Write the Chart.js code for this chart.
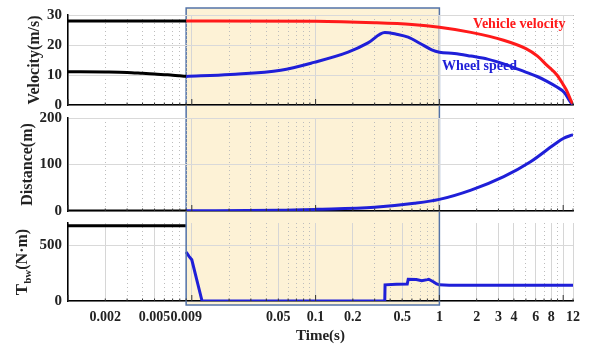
<!DOCTYPE html>
<html>
<head>
<meta charset="utf-8">
<script src="https://cdn.jsdelivr.net/npm/chart.js@4.4.0/dist/chart.umd.min.js"></script>
<style>
    body { margin: 0; background: #fff; }
    #wrap { position: relative; width: 589px; height: 347px; }
    #wrap canvas { position: absolute; left: 0; top: 0; }
</style>
</head>
<body>
<div id="wrap">
    <canvas id="chartTorque" width="589" height="347"></canvas>
    <canvas id="chartDistance" width="589" height="347"></canvas>
    <canvas id="chartVelocity" width="589" height="347"></canvas>
</div>
<script>
// --- data ---
const gridTicks = [0.001, 0.002, 0.003, 0.004, 0.005, 0.006, 0.007, 0.008, 0.009,
    0.01, 0.02, 0.03, 0.04, 0.05, 0.06, 0.07, 0.08, 0.09,
    0.1, 0.2, 0.3, 0.4, 0.5, 0.6, 0.7, 0.8, 0.9,
    1, 2, 3, 4, 5, 6, 7, 8, 9, 10, 12];
const decadeTicks = [0.001, 0.01, 0.1, 1, 10];
const tickLabels = [0.002, 0.005, 0.009, 0.05, 0.1, 0.2, 0.5, 1, 2, 3, 4, 6, 8, 12];
const bandRange = [0.009, 1];

const velTicks = [0, 10, 20, 30];
const distTicks = [0, 100, 200];
const torqueTicks = [0, 500];

// before 0.009 s (black)
const preTime = [0.001, 0.002, 0.003, 0.004, 0.005, 0.006, 0.007, 0.008, 0.009];
const preWheel = [11.1, 11.0, 10.85, 10.55, 10.3, 10.1, 9.95, 9.75, 9.55];
const preVehicle = [28, 28, 28, 28, 28, 28, 28, 28, 28];
const preDistance = [0, 0, 0, 0, 0, 0, 0, 0, 0];
const preTorque = [675, 675, 675, 675, 675, 675, 675, 675, 675];

// vehicle velocity (red)
const vehTime = [0.009, 0.1, 0.3, 0.6, 1.0, 1.8, 3.3, 5, 6.2, 7.4, 8.9, 10, 10.7, 11.7, 12];
const vehVel = [28.0, 27.9, 27.4, 26.8, 25.9, 24.2, 21.6, 18.8, 16.3, 13.2, 10, 6.8, 4.7, 1.0, 0.5];

// wheel speed (blue)
const wheelTime = [0.009, 0.0205, 0.0523, 0.097, 0.183, 0.265, 0.362, 0.45, 0.559, 0.7, 0.867, 1.0,
    1.32, 1.8, 2.45, 3.31, 4.53, 6.16, 7.4, 8.9, 10.2, 11.7, 12];
const wheelVel = [9.5, 10.2, 11.6, 14.2, 17.6, 20.7, 24.2, 23.6, 22.6, 20.5, 18.4, 17.6,
    17.2, 16.3, 15.3, 13.7, 11.6, 9.5, 7.9, 6.0, 4.2, 0.5, 0.3];

// distance (blue)
const distTime = [0.009, 0.05, 0.1, 0.3, 0.628, 1.0, 1.8, 3.31, 5.45, 8.36, 10, 11.7, 12];
const distVal = [0.5, 1.5, 3.5, 8, 16.5, 25, 45, 74, 106, 142, 156, 163, 164];

// braking torque (blue)
const torqueTime = [0.009, 0.0095, 0.01, 0.0121, 0.05, 0.2, 0.362, 0.364, 0.45, 0.55, 0.56, 0.65,
    0.72, 0.8, 0.82, 0.9, 0.95, 1.0, 1.2, 2, 5, 12];
const torqueVal = [440, 400, 370, 0, 0, 0, 0, 145, 150, 152, 195, 192,
    182, 192, 195, 170, 153, 145, 142, 141, 141, 141];

const vehicleLabelAt = [1.87, 26.8];
const wheelLabelAt = [1.05, 12.9];

// --- style ---
const FONT = 'Liberation Serif, Times New Roman, serif';
const RED = '#ff1a1a';
const BLUE = '#1f1fd8';
const BLACK = '#000';
const BAND_FILL = '#fdf2d6';
const BAND_EDGE = '#5373a8';
const BAND_TOP = 8;
const BAND_BOTTOM = 305;

const near = (v, list) => list.some(t => Math.abs(Math.log10(v) - Math.log10(t)) < 1e-6);
const pts = (xs, ys) => xs.map((x, i) => ({ x, y: ys[i] }));

function line(xs, ys, color, smooth) {
    return {
        data: pts(xs, ys),
        borderColor: color,
        borderWidth: 3,
        pointRadius: 0,
        fill: false,
        cubicInterpolationMode: smooth ? 'monotone' : 'default',
        tension: 0
    };
}

function xScale(labelled, solidList) {
    return {
        type: 'logarithmic',
        min: 0.001,
        max: 12,
        afterBuildTicks: s => { s.ticks = gridTicks.map(v => ({ value: v })); },
        afterFit: s => { s.height = labelled ? 46 : 0; },
        ticks: {
            display: labelled,
            autoSkip: false,
            maxRotation: 0,
            minRotation: 0,
            padding: 8,
            color: '#222',
            font: { family: FONT, size: 14, weight: 'bold' },
            callback: v => near(v, tickLabels) ? String(v) : ''
        },
        grid: {
            drawTicks: false,
            lineWidth: 1,
            color: ctx => (ctx.tick && near(ctx.tick.value, solidList)) ? '#d6d6d6' : '#bdbdbd'
        },
        border: {
            color: BLACK,
            width: 1.5,
            dash: ctx => (ctx.tick && !near(ctx.tick.value, solidList)) ? [1, 3] : []
        },
        title: {
            display: labelled,
            text: 'Time(s)',
            color: '#222',
            font: { family: FONT, size: 15, weight: 'bold' },
            padding: { top: 0, bottom: 2 }
        }
    };
}

function yScale(min, max, tickList, titleText, titlePad) {
    return {
        type: 'linear',
        min: min,
        max: max,
        afterBuildTicks: s => { s.ticks = tickList.map(v => ({ value: v })); },
        afterFit: s => { s.width = 68; },
        ticks: {
            padding: 6,
            color: '#222',
            font: { family: FONT, size: 15, weight: 'bold' }
        },
        grid: { drawTicks: false, color: '#d9d9d9', lineWidth: 1 },
        border: { color: BLACK, width: 1.5 },
        title: {
            display: !!titleText,
            text: titleText,
            color: '#222',
            font: { family: FONT, size: 16, weight: 'bold' },
            padding: { top: titlePad, bottom: 0 }
        }
    };
}

// small inward ticks on the x axis
const innerTicks = {
    id: 'innerTicks',
    afterDraw(chart) {
        const { ctx, chartArea, scales } = chart;
        ctx.save();
        ctx.strokeStyle = '#333';
        ctx.lineWidth = 1;
        gridTicks.forEach(v => {
            const x = scales.x.getPixelForValue(v);
            const len = near(v, decadeTicks) ? 6 : 2.5;
            ctx.beginPath();
            ctx.moveTo(x, chartArea.bottom);
            ctx.lineTo(x, chartArea.bottom - len);
            ctx.stroke();
        });
        ctx.restore();
    }
};

// shaded interval (drawn on the lowest canvas, spans all panels)
const bandPlugin = {
    id: 'band',
    beforeDraw(chart) {
        const { ctx, scales } = chart;
        const x0 = scales.x.getPixelForValue(bandRange[0]);
        const x1 = scales.x.getPixelForValue(bandRange[1]);
        ctx.save();
        ctx.fillStyle = BAND_FILL;
        ctx.fillRect(x0, BAND_TOP, x1 - x0, BAND_BOTTOM - BAND_TOP);
        ctx.restore();
    },
    afterDraw(chart) {
        const { ctx, scales } = chart;
        const x0 = scales.x.getPixelForValue(bandRange[0]);
        const x1 = scales.x.getPixelForValue(bandRange[1]);
        ctx.save();
        ctx.strokeStyle = BAND_EDGE;
        ctx.lineWidth = 1.5;
        ctx.strokeRect(x0, BAND_TOP, x1 - x0, BAND_BOTTOM - BAND_TOP);
        ctx.restore();
    }
};

// y title with subscript for the torque panel
const torqueTitle = {
    id: 'torqueTitle',
    afterDraw(chart) {
        const { ctx, chartArea } = chart;
        const big = 'bold 17px ' + FONT;
        const small = 'bold 11px ' + FONT;
        const mid = 'bold 16px ' + FONT;
        ctx.save();
        ctx.font = big; const wT = ctx.measureText('T').width;
        ctx.font = small; const wS = ctx.measureText('bw').width;
        ctx.font = mid; const wU = ctx.measureText('(N\u00b7m)').width;
        const total = wT + wS + wU;
        ctx.translate(27, (chartArea.top + chartArea.bottom) / 2);
        ctx.rotate(-Math.PI / 2);
        ctx.fillStyle = '#222';
        ctx.textBaseline = 'alphabetic';
        let x = -total / 2;
        ctx.font = big; ctx.fillText('T', x, 0); x += wT;
        ctx.font = small; ctx.fillText('bw', x, 4); x += wS;
        ctx.font = mid; ctx.fillText('(N\u00b7m)', x, 0);
        ctx.restore();
    }
};

// text labels inside the velocity panel
const seriesLabels = {
    id: 'seriesLabels',
    afterDatasetsDraw(chart) {
        const { ctx, scales } = chart;
        ctx.save();
        ctx.font = 'bold 14px ' + FONT;
        ctx.textBaseline = 'middle';
        ctx.fillStyle = RED;
        ctx.fillText('Vehicle velocity', scales.x.getPixelForValue(vehicleLabelAt[0]), scales.y.getPixelForValue(vehicleLabelAt[1]));
        ctx.fillStyle = BLUE;
        ctx.fillText('Wheel speed', scales.x.getPixelForValue(wheelLabelAt[0]), scales.y.getPixelForValue(wheelLabelAt[1]));
        ctx.restore();
    }
};

function baseOptions(padTop, padBottom, x, y) {
    return {
        responsive: false,
        animation: false,
        events: [],
        layout: { padding: { top: padTop, bottom: padBottom, left: 0, right: 16 } },
        plugins: { legend: { display: false }, tooltip: { enabled: false } },
        scales: { x: x, y: y }
    };
}

new Chart(document.getElementById('chartTorque'), {
    type: 'line',
    data: {
        datasets: [
            line(preTime, preTorque, BLACK, false),
            line(torqueTime, torqueVal, BLUE, false)
        ]
    },
    options: baseOptions(223, 0, xScale(true, tickLabels.concat(decadeTicks)), yScale(0, 700, torqueTicks, '', 0)),
    plugins: [bandPlugin, innerTicks, torqueTitle]
});

new Chart(document.getElementById('chartDistance'), {
    type: 'line',
    data: {
        datasets: [
            line(preTime, preDistance, BLACK, false),
            line(distTime, distVal, BLUE, true)
        ]
    },
    options: baseOptions(118, 347 - 211, xScale(false, decadeTicks), yScale(0, 200, distTicks, 'Distance(m)', 18)),
    plugins: [innerTicks]
});

new Chart(document.getElementById('chartVelocity'), {
    type: 'line',
    data: {
        datasets: [
            line(preTime, preVehicle, BLACK, false),
            line(preTime, preWheel, BLACK, true),
            line(vehTime, vehVel, RED, true),
            line(wheelTime, wheelVel, BLUE, true)
        ]
    },
    options: baseOptions(10, 347 - 105, xScale(false, decadeTicks), yScale(0, 30, velTicks, 'Velocity(m/s)', 25)),
    plugins: [innerTicks, seriesLabels]
});
</script>
</body>
</html>
